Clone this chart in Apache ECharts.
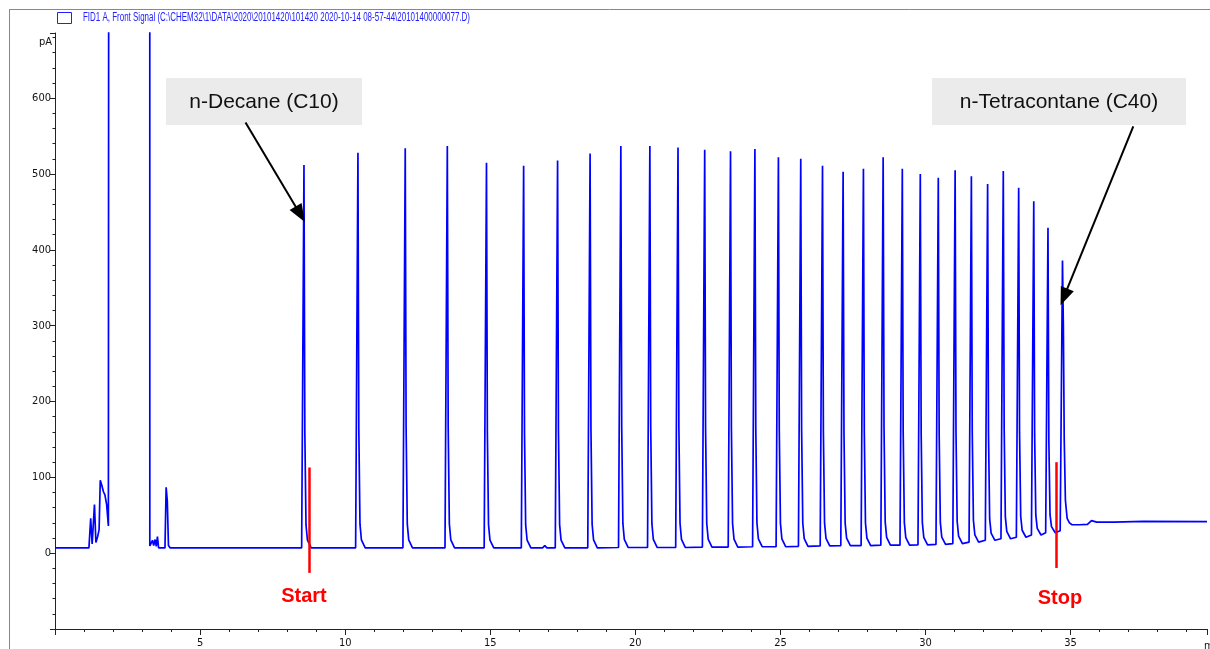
<!DOCTYPE html>
<html><head><meta charset="utf-8">
<script src="https://cdn.jsdelivr.net/npm/echarts@6/dist/echarts.min.js"></script>
<style>html,body{margin:0;padding:0;background:#fff}#c{width:1210px;height:649px}</style>
</head><body><div id="c"></div><script>
// ---- data ----
const titleText = 'FID1 A, Front Signal (C:\\CHEM32\\1\\DATA\\2020\\20101420\\101420 2020-10-14 08-57-44\\20101400000077.D)';
const yUnit = 'pA';
const xUnit = 'min';
// early (solvent) part of the trace: [time(min), signal(pA)]
const solventTrace = [[0,7],[1.17,7],[1.20,8],[1.23,46],[1.28,12],[1.36,64],[1.41,14],[1.47,22],[1.52,31],[1.56,96],[1.61,90],[1.67,81],[1.72,77],[1.78,64],[1.84,36],[1.873,2500],[3.262,2500],[3.268,9.5],[3.31,10],[3.36,17],[3.40,10],[3.45,18],[3.49,9],[3.53,22],[3.57,7],[3.79,7],[3.83,87],[3.87,69],[3.91,10],[3.97,7]];
// n-alkane peaks C10 ... C40
const peakNames = ['C10','C11','C12','C13','C14','C15','C16','C17','C18','C19','C20','C21','C22','C23','C24','C25','C26','C27','C28','C29','C30','C31','C32','C33','C34','C35','C36','C37','C38','C39','C40'];
const peakTimes = [8.58,10.44,12.07,13.52,14.87,16.15,17.32,18.44,19.50,20.50,21.47,22.39,23.28,24.12,24.93,25.70,26.45,27.16,27.86,28.54,29.20,29.82,30.44,31.02,31.58,32.14,32.68,33.21,33.73,34.22,34.72];
const peakHeights = [512,528,534,537,515,511,518,527,537,537,535,532,530,533,522,520,511,503,507,522,507,500,495,505,497,487,504,482,464,429,386];
const peakBases = [7,7,7,7,7,7,7,7,7.5,7.5,7.5,8,8,8.5,8.5,9,9.5,10,10,10.5,10.5,11,11.5,12.5,14.5,17,19,21,24,27,29.5];
// peak outline (time offset, fraction of peak height above base)
const peakShapeDt = [-0.08,0,0.03,0.07,0.12,0.25];
const peakShapeFrac = [0,1,0.3,0.06,0.02,0];
const minorBumps = [[16.80,7],[16.88,10],[16.95,7]];
// column bleed after C40
const tailTrace = [[34.75,300],[34.78,150],[34.82,70],[34.88,46],[34.96,40],[35.05,37.5],[35.3,37.5],[35.58,38],[35.72,43],[35.9,41],[36.5,41],[37.5,42],[39.7,41.5]];
const xTickLabels = [5,10,15,20,25,30,35];
const yTickLabels = [0,100,200,300,400,500,600];
const startTime = 8.76, stopTime = 34.49;
const labelFirst = 'n-Decane (C10)', labelLast = 'n-Tetracontane (C40)';

// ---- build trace ----
let trace = solventTrace.slice();
peakTimes.forEach((t, i) => {
  const h = peakHeights[i], b = peakBases[i];
  const last = i === peakTimes.length - 1;
  for (let k = 0; k < peakShapeDt.length; k++) {
    if (last && k > 1) break;
    trace.push([t + peakShapeDt[k], b + peakShapeFrac[k] * (h - b)]);
  }
});
trace = trace.concat(minorBumps, tailTrace);
trace.sort((a, b) => a[0] - b[0]);

const narrow = '"Liberation Sans Narrow","DejaVu Sans Condensed","Liberation Sans",sans-serif';
const arial = '"Liberation Sans",Arial,sans-serif';

// measure title for horizontal compression
const cv = document.createElement('canvas').getContext('2d');
cv.font = '12px ' + arial;
const titleScale = 387 / cv.measureText(titleText).width;

const chart = echarts.init(document.getElementById('c'), null, {renderer: 'canvas'});
chart.setOption({
  animation: false,
  backgroundColor: '#fff',
  grid: {left: 55, right: 0, top: 33, bottom: 18, containLabel: false},
  xAxis: {
    type: 'value', min: 0, max: 39.7, interval: 5,
    axisLine: {show: true, onZero: false, lineStyle: {color: '#222', width: 1}},
    axisTick: {show: true, length: 6, lineStyle: {color: '#222'}},
    minorTick: {show: true, splitNumber: 5, length: 3, lineStyle: {color: '#222'}},
    splitLine: {show: false},
    axisLabel: {margin: 9, fontSize: 11, fontFamily: narrow, color: '#111',
      formatter: v => xTickLabels.includes(v) ? String(v) : ''}
  },
  yAxis: {
    type: 'value', min: -100, max: 686, interval: 100,
    axisLine: {show: true, onZero: false, lineStyle: {color: '#222', width: 1}},
    axisTick: {show: true, length: 5, lineStyle: {color: '#222'}},
    minorTick: {show: true, splitNumber: 5, length: 2.5, lineStyle: {color: '#222'}},
    splitLine: {show: false},
    axisLabel: {margin: 4, fontSize: 11, fontFamily: narrow, color: '#111',
      formatter: v => yTickLabels.includes(v) ? String(v) : ''}
  },
  series: [{
    type: 'line', data: trace, showSymbol: false, symbol: 'none', clip: true,
    lineStyle: {color: '#0000ff', width: 1.7},
    markLine: {
      silent: true, animation: false, label: {show: false},
      symbol: ['none', 'triangle'], symbolSize: [14, 18],
      data: [
        [{coord: [startTime, 113], symbol: 'none', lineStyle: {color: '#ff0000', width: 2.5, type: 'solid'}},
         {coord: [startTime, -26], symbol: 'none'}],
        [{coord: [stopTime, 120], symbol: 'none', lineStyle: {color: '#ff0000', width: 2.5, type: 'solid'}},
         {coord: [stopTime, -19.5], symbol: 'none'}],
        [{coord: [6.566, 568], symbol: 'none', lineStyle: {color: '#000', width: 2, type: 'solid'}},
         {coord: [peakTimes[0] - 0.13, 447], symbol: 'triangle', symbolSize: [14, 18]}],
        [{coord: [37.16, 563], symbol: 'none', lineStyle: {color: '#000', width: 2, type: 'solid'}},
         {coord: [peakTimes[30] + 0.05, 338], symbol: 'triangle', symbolSize: [14, 18]}]
      ],
      itemStyle: {color: '#000'}
    }
  }],
  graphic: [
    {type: 'line', shape: {x1: 9.5, y1: 9, x2: 9.5, y2: 649}, style: {stroke: '#888', lineWidth: 1}},
    {type: 'line', shape: {x1: 9, y1: 9.5, x2: 1210, y2: 9.5}, style: {stroke: '#888', lineWidth: 1}},
    {type: 'rect', shape: {x: 57.5, y: 12.5, width: 14, height: 11}, style: {fill: 'none', stroke: '#2020ff', lineWidth: 1}},
    {type: 'text', x: 83, y: 18, scaleX: titleScale, style: {text: titleText, fill: '#2020ff', font: '12px ' + arial, textVerticalAlign: 'middle', verticalAlign: 'middle'}},
    {type: 'text', x: 52, y: 42, style: {text: yUnit, fill: '#111', font: '11px ' + narrow, align: 'right', verticalAlign: 'middle'}},
    {type: 'text', x: 1204, y: 646, style: {text: xUnit, fill: '#111', font: '11px ' + narrow, align: 'left', verticalAlign: 'middle'}},
    {type: 'rect', shape: {x: 166, y: 78, width: 196, height: 47}, style: {fill: '#ebebeb'}},
    {type: 'text', x: 264, y: 102, style: {text: labelFirst, fill: '#111', font: '21px ' + arial, align: 'center', verticalAlign: 'middle'}},
    {type: 'rect', shape: {x: 932, y: 78, width: 254, height: 47}, style: {fill: '#ebebeb'}},
    {type: 'text', x: 1059, y: 102, style: {text: labelLast, fill: '#111', font: '21px ' + arial, align: 'center', verticalAlign: 'middle'}},
    {type: 'text', x: 304, y: 596, style: {text: 'Start', fill: '#ff0000', font: 'bold 20px ' + arial, align: 'center', verticalAlign: 'middle'}},
    {type: 'text', x: 1060, y: 598, style: {text: 'Stop', fill: '#ff0000', font: 'bold 20px ' + arial, align: 'center', verticalAlign: 'middle'}}
  ]
});
</script></body></html>
